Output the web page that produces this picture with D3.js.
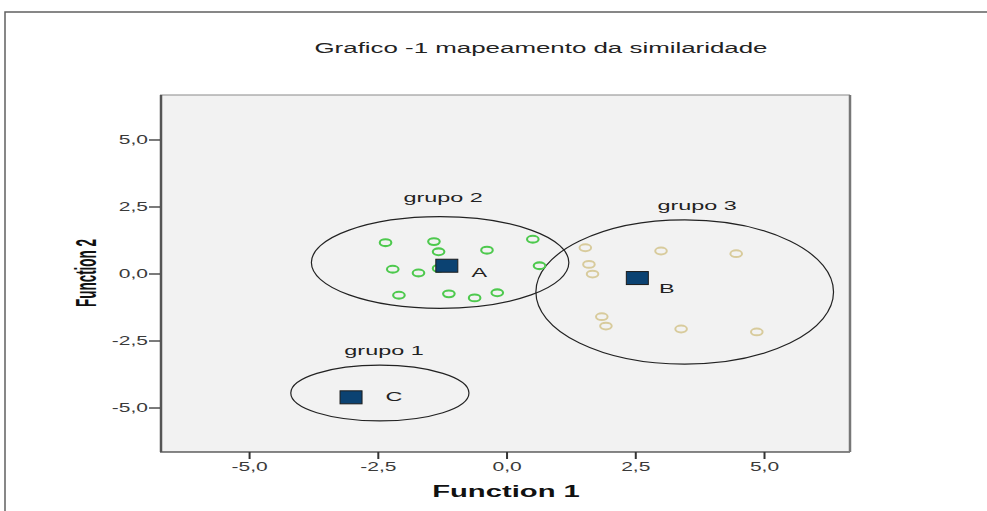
<!DOCTYPE html>
<html>
<head>
<meta charset="utf-8">
<script src="https://cdn.jsdelivr.net/npm/d3@7"></script>
<style>
  html, body { margin: 0; padding: 0; background: #ffffff; }
  svg { display: block; }
  text { font-family: "Liberation Sans", Arial, sans-serif; }
</style>
</head>
<body>
<svg id="chart" width="987" height="511"></svg>
<script>
// ---------- DATA ----------
const titleText = "Grafico -1 mapeamento da similaridade";
const xAxisTitle = "Function 1";
const yAxisTitle = "Function 2";
const tickValues = [-5, -2.5, 0, 2.5, 5];

// grupo 2 cases (green)
const grupo2X = [-2.35, -1.41, -1.32, -0.38, 0.51, -2.21, -1.71, -1.32, 0.64, -2.09, -1.12, -0.62, -0.18];
const grupo2Y = [1.15, 1.19, 0.81, 0.87, 1.28, 0.16, 0.02, 0.19, 0.29, -0.81, -0.76, -0.91, -0.72];

// grupo 3 cases (tan)
const grupo3X = [1.53, 3.00, 4.46, 1.60, 1.67, 1.85, 1.93, 3.39, 4.86];
const grupo3Y = [0.96, 0.84, 0.74, 0.34, -0.02, -1.61, -1.96, -2.07, -2.18];

// group centroids
const centroidNames = ["A", "B", "C"];
const centroidX = [-1.16, 2.54, -3.02];
const centroidY = [0.29, -0.17, -4.62];
const centroidLabelX = [-0.68, 2.96, -2.35];
const centroidLabelY = [-0.13, -0.73, -4.76];

// group territories (ellipses)
const groupNames = ["grupo 1", "grupo 2", "grupo 3"];
const groupCx = [-2.46, -1.29, 3.46];
const groupCy = [-4.46, 0.41, -0.69];
const groupRx = [1.73, 2.50, 2.89];
const groupRy = [1.04, 1.71, 2.69];
const groupLabelX = [-2.38, -1.23, 3.70];
const groupLabelY = [-3.04, 2.67, 2.37];

// ---------- LAYOUT ----------
const svg = d3.select("#chart");
const plot = { left: 160, right: 850, top: 95, bottom: 452 };
const x = d3.scaleLinear().domain([-6.73, 6.67]).range([plot.left, plot.right]);
const y = d3.scaleLinear().domain([-6.66, 6.66]).range([plot.bottom, plot.top]);

const loc = d3.formatLocale({decimal: ",", thousands: ".", grouping: [3], currency: ["", ""], minus: "-"});
const fmt = loc.format(".1f");

function stretchedText(parent, px, py, str, o) {
  const t = parent.append("text")
    .attr("transform", `translate(${px},${py}) scale(${o.sx || 1.8},1)` + (o.rotate ? ` rotate(${o.rotate})` : ""))
    .attr("text-anchor", o.anchor || "start")
    .attr("font-size", o.size || 13)
    .attr("font-weight", o.weight || "normal")
    .attr("fill", o.fill || "#222")
    .text(str);
  return t;
}

// outer frame
svg.append("path")
  .attr("d", "M5,511 V12 H987")
  .attr("fill", "none").attr("stroke", "#606060").attr("stroke-width", 1.5);

// title
stretchedText(svg, 541, 53, titleText, {size: 14, sx: 1.85, anchor: "middle", fill: "#222"});

// plot background
svg.append("rect")
  .attr("x", plot.left).attr("y", plot.top)
  .attr("width", plot.right - plot.left).attr("height", plot.bottom - plot.top)
  .attr("fill", "#f2f2f2");

// frame borders
svg.append("line").attr("x1", plot.left).attr("x2", plot.right).attr("y1", plot.top).attr("y2", plot.top)
  .attr("stroke", "#8a8a8a").attr("stroke-width", 1.2);
svg.append("line").attr("x1", plot.left).attr("x2", plot.right).attr("y1", plot.bottom).attr("y2", plot.bottom)
  .attr("stroke", "#111").attr("stroke-width", 1.2);
svg.append("line").attr("x1", plot.left + 1).attr("x2", plot.left + 1).attr("y1", plot.top).attr("y2", plot.bottom)
  .attr("stroke", "#555").attr("stroke-width", 2.5);
svg.append("line").attr("x1", plot.right).attr("x2", plot.right).attr("y1", plot.top).attr("y2", plot.bottom)
  .attr("stroke", "#777").attr("stroke-width", 2.5);

// y axis
const yAxis = svg.append("g").attr("transform", `translate(${plot.left},0)`)
  .call(d3.axisLeft(y).tickValues(tickValues).tickSize(11).tickFormat(fmt));
yAxis.select(".domain").remove();
yAxis.selectAll(".tick line").attr("stroke", "#333").attr("stroke-width", 1.3);
yAxis.selectAll(".tick text")
  .attr("x", null).attr("dy", "0.35em")
  .attr("transform", "translate(-12,0) scale(1.75,1)")
  .attr("font-family", "Liberation Sans, Arial, sans-serif")
  .attr("font-size", 12).attr("fill", "#3a3a3a");

// x axis
const xAxis = svg.append("g").attr("transform", `translate(0,${plot.bottom})`)
  .call(d3.axisBottom(x).tickValues(tickValues).tickSize(7).tickFormat(fmt));
xAxis.select(".domain").remove();
xAxis.selectAll(".tick line").attr("stroke", "#333").attr("stroke-width", 2);
xAxis.selectAll(".tick text")
  .attr("y", null).attr("dy", null)
  .attr("transform", "translate(0,19) scale(1.75,1)")
  .attr("font-family", "Liberation Sans, Arial, sans-serif")
  .attr("font-size", 12).attr("fill", "#3a3a3a");

// axis titles
stretchedText(svg, 506, 497, xAxisTitle, {size: 17, sx: 1.72, anchor: "middle", weight: "bold", fill: "#111"});
stretchedText(svg, 96, 273, yAxisTitle, {size: 13.5, sx: 2.2, anchor: "middle", weight: "bold", fill: "#111", rotate: -90});

// territories
const groups = groupNames.map((n, i) => ({name: n, cx: groupCx[i], cy: groupCy[i], rx: groupRx[i], ry: groupRy[i], lx: groupLabelX[i], ly: groupLabelY[i]}));
svg.append("g").selectAll("ellipse").data(groups).join("ellipse")
  .attr("cx", d => x(d.cx)).attr("cy", d => y(d.cy))
  .attr("rx", d => x(d.cx + d.rx) - x(d.cx)).attr("ry", d => y(d.cy) - y(d.cy + d.ry))
  .attr("fill", "none").attr("stroke", "#222").attr("stroke-width", 1.2);
groups.forEach(d => stretchedText(svg, x(d.lx), y(d.ly), d.name, {size: 13, sx: 1.8, anchor: "middle", fill: "#222"}));

// cases
const g2 = grupo2X.map((v, i) => ({x: v, y: grupo2Y[i]}));
const g3 = grupo3X.map((v, i) => ({x: v, y: grupo3Y[i]}));
svg.append("g").selectAll("ellipse").data(g3).join("ellipse")
  .attr("cx", d => x(d.x)).attr("cy", d => y(d.y)).attr("rx", 5.8).attr("ry", 3.4)
  .attr("fill", "none").attr("stroke", "#d8cb9c").attr("stroke-width", 2);
svg.append("g").selectAll("ellipse").data(g2).join("ellipse")
  .attr("cx", d => x(d.x)).attr("cy", d => y(d.y)).attr("rx", 5.8).attr("ry", 3.4)
  .attr("fill", "none").attr("stroke", "#4ec94e").attr("stroke-width", 2.1);

// centroids
const cents = centroidNames.map((n, i) => ({name: n, x: centroidX[i], y: centroidY[i], lx: centroidLabelX[i], ly: centroidLabelY[i]}));
svg.append("g").selectAll("rect").data(cents).join("rect")
  .attr("x", d => x(d.x) - 11).attr("y", d => y(d.y) - 6.5)
  .attr("width", 22).attr("height", 13)
  .attr("fill", "#0b4272").attr("stroke", "#1c1c1c").attr("stroke-width", 1);
cents.forEach(d => stretchedText(svg, x(d.lx), y(d.ly), d.name, {size: 13, sx: 1.8, anchor: "start", fill: "#222"}));
</script>
</body>
</html>
